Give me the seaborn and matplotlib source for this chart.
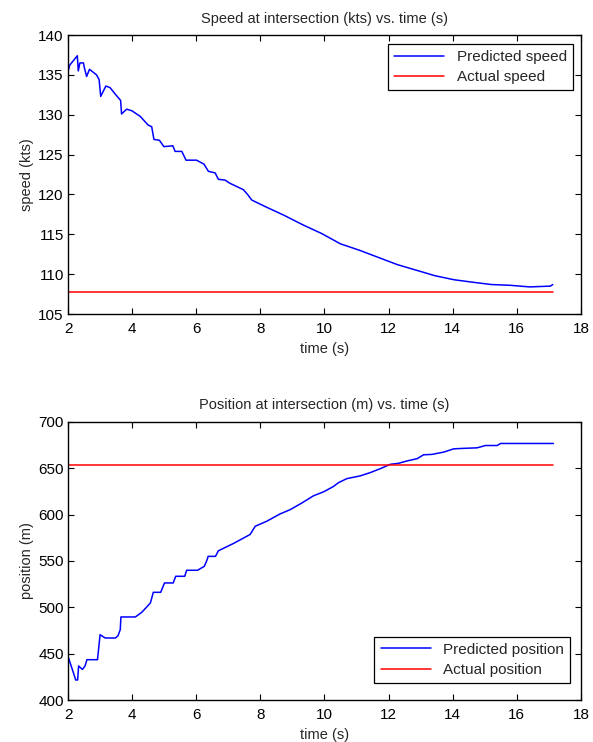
import numpy as np
import matplotlib
matplotlib.use('Agg')
import matplotlib.pyplot as plt
import seaborn as sns

# speed at intersection (kts)
speed_t = [2.0, 2.05, 2.29, 2.32, 2.37, 2.48, 2.51, 2.58, 2.67, 2.89, 2.97, 3.02,
           3.18, 3.31, 3.47, 3.64, 3.67, 3.83, 3.99, 4.25, 4.5, 4.61, 4.68, 4.85,
           4.99, 5.27, 5.34, 5.55, 5.68, 6.01, 6.24, 6.38, 6.59, 6.69, 6.9, 7.05,
           7.47, 7.6, 7.73, 8.14, 8.73, 9.32, 9.91, 10.5, 11.09, 11.68, 12.27,
           12.86, 13.45, 14.04, 14.6, 15.2, 15.8, 16.4, 17.05, 17.12]
speed_pred = [135.4, 136.2, 137.4, 135.5, 136.5, 136.5, 135.9, 134.8, 135.7, 135.0,
              134.4, 132.3, 133.6, 133.4, 132.6, 131.8, 130.1, 130.7, 130.5, 129.8,
              128.7, 128.5, 126.9, 126.8, 126.0, 126.1, 125.4, 125.4, 124.3, 124.3,
              123.8, 122.9, 122.7, 121.9, 121.8, 121.4, 120.6, 120.0, 119.3, 118.5,
              117.4, 116.2, 115.1, 113.8, 113.0, 112.1, 111.2, 110.5, 109.8, 109.3,
              109.0, 108.7, 108.6, 108.4, 108.5, 108.7]
actual_t = [2.0, 17.14]
speed_actual = [107.7, 107.7]

# position at intersection (m)
pos_t = [2.0, 2.12, 2.24, 2.3, 2.33, 2.45, 2.53, 2.59, 2.92, 3.0, 3.16, 3.48,
         3.56, 3.63, 3.65, 4.1, 4.3, 4.57, 4.66, 4.89, 5.01, 5.28, 5.36, 5.64,
         5.7, 6.04, 6.25, 6.34, 6.37, 6.6, 6.69, 7.16, 7.68, 7.84, 8.2, 8.61,
         8.93, 9.29, 9.66, 9.97, 10.28, 10.44, 10.7, 11.11, 11.43, 11.74, 12.05,
         12.31, 12.57, 12.89, 13.09, 13.35, 13.72, 14.03, 14.24, 14.76, 15.02,
         15.39, 15.49, 17.14]
pos_pred = [447, 434.5, 421.6, 421.6, 436.7, 433, 436.7, 443.5, 443.5, 470.5,
            466.9, 466.9, 469.4, 476, 489.6, 489.6, 494.6, 504.7, 516.2, 516.2,
            526.3, 526.3, 533.5, 533.5, 540, 540, 544.2, 551.4, 555, 555,
            561, 568.9, 578.6, 587.5, 592.9, 600.7, 605.4, 612.5, 620.4, 624.6,
            630.4, 634.6, 638.9, 641.8, 645.4, 649.6, 654.3, 655.4, 657.9, 660.4,
            664.6, 665, 667.5, 671, 671.4, 672.1, 674.6, 674.6, 676.8, 676.8]
pos_actual = [653.5, 653.5]

x_ticks = [2, 4, 6, 8, 10, 12, 14, 16, 18]

sns.set_style('ticks')
plt.rcParams['font.family'] = ['Liberation Sans', 'DejaVu Sans']

fig = plt.figure(figsize=(5.93, 7.42), dpi=100)
ax1 = fig.add_axes([0.1147, 0.5768, 0.865, 0.376])
ax2 = fig.add_axes([0.1147, 0.0566, 0.865, 0.3747])


def style_axis(ax, title, ylabel, ylim, yticks):
    ax.set_xlim(2, 18)
    ax.set_ylim(*ylim)
    ax.set_xticks(x_ticks)
    ax.set_yticks(yticks)
    ax.tick_params(direction='in', length=4, width=0.8, top=True, right=True,
                   labelsize=11, colors='black')
    ax.tick_params(axis='x', pad=6)
    ax.tick_params(axis='y', pad=3)
    for s in ax.spines.values():
        s.set_visible(True)
        s.set_color('black')
        s.set_linewidth(1.0)
    ax.set_title(title, fontsize=10.5, pad=9)
    ax.set_xlabel('time (s)', fontsize=10.5, labelpad=4)
    ax.set_ylabel(ylabel, fontsize=10.5, labelpad=3)


sns.lineplot(x=speed_t, y=speed_pred, ax=ax1, color='#0000ff', lw=1.1,
             label='Predicted speed', estimator=None, sort=False)
sns.lineplot(x=actual_t, y=speed_actual, ax=ax1, color='#ff0000', lw=1.1,
             label='Actual speed', estimator=None, sort=False)
style_axis(ax1, 'Speed at intersection (kts) vs. time (s)', 'speed (kts)',
           (105, 140), [105, 110, 115, 120, 125, 130, 135, 140])
leg1 = ax1.legend(loc='upper right', bbox_to_anchor=(0.984, 0.968), fontsize=11,
                  frameon=True, fancybox=False, framealpha=1, edgecolor='black',
                  handlelength=3.3, borderaxespad=0, borderpad=0.4, labelspacing=0.4)
leg1.get_frame().set_linewidth(0.9)

sns.lineplot(x=pos_t, y=pos_pred, ax=ax2, color='#0000ff', lw=1.1,
             label='Predicted position', estimator=None, sort=False)
sns.lineplot(x=actual_t, y=pos_actual, ax=ax2, color='#ff0000', lw=1.1,
             label='Actual position', estimator=None, sort=False)
style_axis(ax2, 'Position at intersection (m) vs. time (s)', 'position (m)',
           (400, 700), [400, 450, 500, 550, 600, 650, 700])
leg2 = ax2.legend(loc='lower right', bbox_to_anchor=(0.979, 0.061), fontsize=11,
                  frameon=True, fancybox=False, framealpha=1, edgecolor='black',
                  handlelength=3.3, borderaxespad=0, borderpad=0.4, labelspacing=0.4)
leg2.get_frame().set_linewidth(0.9)

fig.savefig('out.png', dpi=100, facecolor='white')
